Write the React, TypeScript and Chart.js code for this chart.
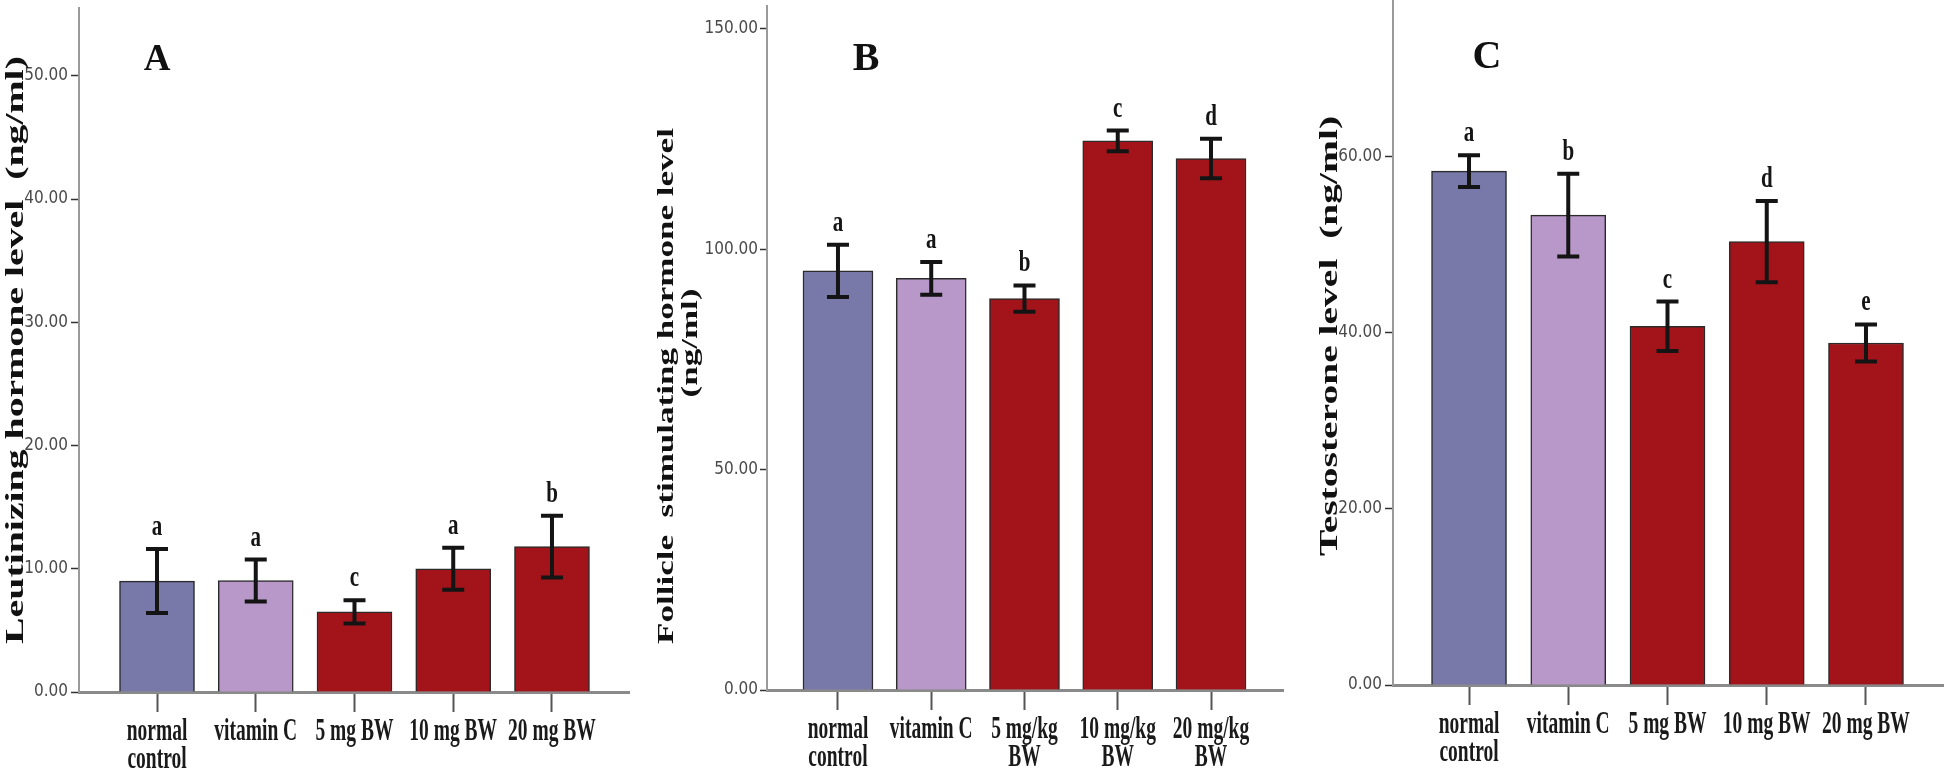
import React, { useEffect, useRef } from 'react';
import { Chart, registerables } from 'chart.js';

Chart.register(...registerables);

// ---------------- DATA ----------------
const categoriesAC: string[][] = [['normal', 'control'], ['vitamin C'], ['5 mg BW'], ['10 mg BW'], ['20 mg BW']];
const categoriesB: string[][] = [['normal', 'control'], ['vitamin C'], ['5 mg/kg', 'BW'], ['10 mg/kg', 'BW'], ['20 mg/kg', 'BW']];

const lhMeans = [9.0, 9.05, 6.5, 10.0, 11.8];
const lhErrors = [2.6, 1.7, 0.95, 1.7, 2.5];
const lhLetters = ['a', 'a', 'c', 'a', 'b'];
const lhTicks = [0, 10, 20, 30, 40, 50];

const fshMeans = [95.1, 93.4, 88.8, 124.6, 120.6];
const fshErrors = [5.9, 3.7, 3.0, 2.35, 4.5];
const fshLetters = ['a', 'a', 'b', 'c', 'd'];
const fshTicks = [0, 50, 100, 150];

const tMeans = [58.3, 53.3, 40.7, 50.3, 38.8];
const tErrors = [1.8, 4.7, 2.8, 4.6, 2.1];
const tLetters = ['a', 'b', 'c', 'd', 'e'];
const tTicks = [0, 20, 40, 60];

// ---------------- STYLE ----------------
const H = 777;
const BAR_COLORS = ['#7879a8', '#b798c8', '#a3141a', '#a3141a', '#a3141a'];
const SERIF = "'Liberation Serif', 'Times New Roman', serif";
const NARROW = "'Liberation Sans Narrow', 'Arial Narrow', 'DejaVu Sans Condensed', sans-serif";

type TitleLine = { text: string; x: number; y: number };
type Panel = {
  left: number;
  width: number;
  area: { left: number; right: number; top: number; bottom: number };
  yMax: number;
  yTicks: number[];
  xMin: number;
  xMax: number;
  barWidth: number;
  cats: string[][];
  means: number[];
  errors: number[];
  letters: string[];
  title: TitleLine[];
  titleStretch: number;
  titleSize: number;
  panelLetter: { text: string; x: number; y: number; size: number };
  tickLen: number;
  tickPad: number;
};

const panels: Panel[] = [
  {
    left: 0, width: 640,
    area: { left: 79, right: 629, top: 8, bottom: 692 },
    yMax: 55.5, yTicks: lhTicks, xMin: -0.79, xMax: 4.78, barWidth: 75,
    cats: categoriesAC, means: lhMeans, errors: lhErrors, letters: lhLetters,
    title: [{ text: 'Leutinizing hormone level  (ng/ml)', x: 23, y: 350 }],
    titleStretch: 1.53, titleSize: 26,
    panelLetter: { text: 'A', x: 157, y: 70, size: 37 },
    tickLen: 8, tickPad: 3,
  },
  {
    left: 640, width: 650,
    area: { left: 127, right: 643, top: 6, bottom: 690 },
    yMax: 155.2, yTicks: fshTicks, xMin: -0.761, xMax: 4.772, barWidth: 70,
    cats: categoriesB, means: fshMeans, errors: fshErrors, letters: fshLetters,
    title: [
      { text: 'Follicle  stimulating hormone level', x: 33, y: 386 },
      { text: '(ng/ml)', x: 57, y: 343 },
    ],
    titleStretch: 1.46, titleSize: 24,
    panelLetter: { text: 'B', x: 226, y: 70, size: 40 },
    tickLen: 7, tickPad: 2,
  },
  {
    left: 1290, width: 654,
    area: { left: 103, right: 653, top: 1, bottom: 685 },
    yMax: 77.6, yTicks: tTicks, xMin: -0.766, xMax: 4.776, barWidth: 75,
    cats: categoriesAC, means: tMeans, errors: tErrors, letters: tLetters,
    title: [{ text: 'Testosterone level  (ng/ml)', x: 47, y: 336 }],
    titleStretch: 1.52, titleSize: 26,
    panelLetter: { text: 'C', x: 197, y: 68, size: 40 },
    tickLen: 8, tickPad: 3,
  },
];

function stretchText(
  ctx: CanvasRenderingContext2D,
  text: string,
  x: number,
  y: number,
  font: string,
  sx: number,
  sy: number,
  color: string,
  rotate = 0,
  align: CanvasTextAlign = 'center',
) {
  ctx.save();
  ctx.translate(x, y);
  if (rotate) ctx.rotate(rotate);
  ctx.scale(sx, sy);
  ctx.font = font;
  ctx.textAlign = align;
  ctx.textBaseline = 'alphabetic';
  ctx.fillStyle = color;
  ctx.fillText(text, 0, 0);
  ctx.restore();
}

function makePlugin(p: Panel) {
  return {
    id: 'annot' + p.panelLetter.text,
    afterDatasetsDraw(chart: any) {
      const ctx: CanvasRenderingContext2D = chart.ctx;
      const xs = chart.scales.x;
      const ys = chart.scales.y;
      const CAP = 11;
      p.means.forEach((m, i) => {
        const px = xs.getPixelForValue(i);
        const top = ys.getPixelForValue(m + p.errors[i]);
        const bot = ys.getPixelForValue(m - p.errors[i]);
        ctx.save();
        ctx.strokeStyle = '#141414';
        ctx.lineWidth = 4;
        ctx.beginPath();
        ctx.moveTo(px, top);
        ctx.lineTo(px, bot);
        ctx.moveTo(px - CAP, top);
        ctx.lineTo(px + CAP, top);
        ctx.moveTo(px - CAP, bot);
        ctx.lineTo(px + CAP, bot);
        ctx.stroke();
        ctx.restore();
        stretchText(ctx, p.letters[i], px, top - 14, `bold 21px ${SERIF}`, 1, 1.4, '#151515');
      });
    },
    afterDraw(chart: any) {
      const ctx: CanvasRenderingContext2D = chart.ctx;
      const xs = chart.scales.x;
      const base = chart.chartArea.bottom;
      p.cats.forEach((lines, i) => {
        const px = xs.getPixelForValue(i);
        lines.forEach((ln, k) => {
          stretchText(ctx, ln, px, base + 48 + k * 28, `bold 19.5px ${SERIF}`, 1, 1.6, '#1a1a1a');
        });
      });
      p.title.forEach((t) => {
        stretchText(ctx, t.text, t.x, t.y, `bold ${p.titleSize}px ${SERIF}`, p.titleStretch, 1, '#111', -Math.PI / 2);
      });
      const L = p.panelLetter;
      stretchText(ctx, L.text, L.x, L.y, `bold ${L.size}px ${SERIF}`, 1, 1, '#111');
    },
  };
}

function makeConfig(p: Panel): any {
  return {
    type: 'bar',
    data: {
      datasets: [
        {
          data: p.means.map((v, i) => ({ x: i, y: v })),
          backgroundColor: BAR_COLORS,
          borderColor: '#2b2b2b',
          borderWidth: 1.5,
          barThickness: p.barWidth,
        },
      ],
    },
    options: {
      animation: false,
      responsive: false,
      devicePixelRatio: 1,
      layout: { padding: { left: 0, right: p.width - p.area.right, top: p.area.top, bottom: 0 } },
      plugins: { legend: { display: false }, tooltip: { enabled: false } },
      scales: {
        x: {
          type: 'linear',
          offset: false,
          min: p.xMin,
          max: p.xMax,
          afterBuildTicks: (s: any) => {
            s.ticks = p.cats.map((_, i) => ({ value: i }));
          },
          afterFit: (s: any) => {
            s.height = H - p.area.bottom;
            s.paddingLeft = 0;
            s.paddingRight = 0;
          },
          ticks: { display: false },
          grid: { offset: false, drawOnChartArea: false, drawTicks: true, tickLength: 20, tickColor: '#555', tickWidth: 2 },
          border: { color: '#8a8a8a', width: 3 },
        },
        y: {
          type: 'linear',
          min: 0,
          max: p.yMax,
          afterBuildTicks: (s: any) => {
            s.ticks = p.yTicks.map((v) => ({ value: v }));
          },
          afterFit: (s: any) => {
            s.width = p.area.left;
            s.paddingTop = 0;
            s.paddingBottom = 0;
          },
          ticks: {
            callback: (v: any) => Number(v).toFixed(2),
            font: { family: NARROW, size: 17 },
            color: '#4a4a4a',
            padding: p.tickPad,
          },
          grid: { drawOnChartArea: false, drawTicks: true, tickLength: p.tickLen, tickColor: '#333', tickWidth: 1.5 },
          border: { color: '#9a9a9a', width: 2 },
        },
      },
    },
    plugins: [makePlugin(p)],
  };
}

function PanelChart({ p }: { p: Panel }) {
  const ref = useRef<HTMLCanvasElement | null>(null);
  useEffect(() => {
    if (!ref.current) return;
    const chart = new Chart(ref.current, makeConfig(p));
    return () => chart.destroy();
  }, [p]);
  return (
    <canvas
      ref={ref}
      width={p.width}
      height={H}
      style={{ position: 'absolute', left: p.left, top: 0, width: p.width, height: H }}
    />
  );
}

export default function App() {
  return (
    <div style={{ position: 'absolute', left: 0, top: 0, width: 1944, height: H, background: '#fff', overflow: 'hidden' }}>
      {panels.map((p) => (
        <PanelChart key={p.panelLetter.text} p={p} />
      ))}
    </div>
  );
}
